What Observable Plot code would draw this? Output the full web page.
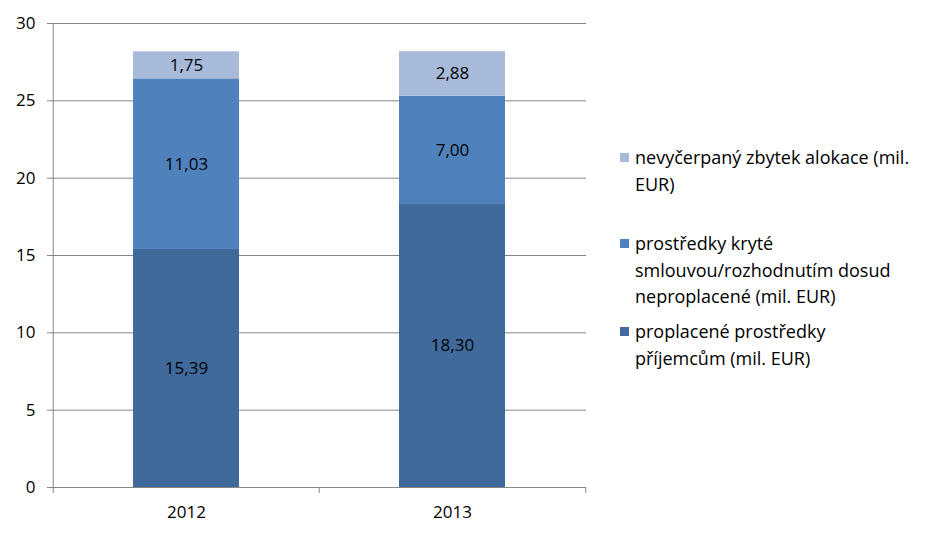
<!DOCTYPE html>
<html>
<head>
<meta charset="utf-8">
<script src="https://cdn.jsdelivr.net/npm/d3@7"></script>
<script src="https://cdn.jsdelivr.net/npm/@observablehq/plot@0.6"></script>
<style>
  html, body { margin: 0; padding: 0; background: #fff; }
  #wrap { position: relative; width: 936px; height: 539px; font-family: "Open Sans", Lato, sans-serif; }
  #legend { position: absolute; left: 0; top: 0; }
  .item { position: absolute; left: 620px; font-size: 18px; line-height: 26.5px; color: #000; white-space: nowrap; }
  .sw { position: absolute; left: 0; top: 9px; width: 9px; height: 9px; }
  .txt { position: absolute; left: 15px; top: 0; }
</style>
</head>
<body>
<div id="wrap"><div id="legend"></div></div>
<script>
const years = ["2012", "2013"];
const seriesNames = [
  "proplacené prostředky příjemcům (mil. EUR)",
  "prostředky kryté smlouvou/rozhodnutím dosud neproplacené (mil. EUR)",
  "nevyčerpaný zbytek alokace (mil. EUR)"
];
const legendLines = [
  ["proplacené prostředky", "příjemcům (mil. EUR)"],
  ["prostředky kryté", "smlouvou/rozhodnutím dosud", "neproplacené (mil. EUR)"],
  ["nevyčerpaný zbytek alokace (mil.", "EUR)"]
];
const paid = [15.39, 18.30];
const contracted = [11.03, 7.00];
const remaining = [1.75, 2.88];
const seriesColors = ["#3F6A9B", "#4F81BD", "#A8BADA"];
const yTicks = [0, 5, 10, 15, 20, 25, 30];

const valuesBySeries = [paid, contracted, remaining];
const data = [];
seriesNames.forEach((s, si) => {
  years.forEach((y, yi) => data.push({year: y, series: s, value: valuesBySeries[si][yi]}));
});
const fmt = v => v.toFixed(2).replace(".", ",");

const W = 600, H = 539, mL = 53, mR = 14, mT = 23, mB = 52;
const step = (W - mL - mR) / years.length;
const grey = "#868686";
const font = "'Open Sans', Lato, sans-serif";

const chart = Plot.plot({
  width: W, height: H,
  marginLeft: mL, marginRight: mR, marginTop: mT, marginBottom: mB,
  style: {fontFamily: font, fontSize: "17px", color: "#000", background: "transparent"},
  x: {domain: years, paddingInner: 0.6, paddingOuter: 0.3, label: null},
  y: {domain: [0, 30], ticks: yTicks, label: null},
  color: {domain: seriesNames, range: seriesColors},
  marks: [
    Plot.gridY(yTicks.filter(t => t > 0), {stroke: grey, strokeOpacity: 1, strokeWidth: 1}),
    Plot.axisY({ticks: yTicks, tickSize: 6, tickPadding: 12, stroke: grey, fill: "#000", fontSize: 17, label: null}),
    Plot.ruleX([years[0]], {dx: -step / 2, stroke: grey}),
    Plot.barY(data, {x: "year", y: "value", fill: "series"}),
    Plot.text(data, Plot.stackY({x: "year", y: "value", z: "series", text: d => fmt(d.value), fill: "#000", fontSize: 17})),
    Plot.ruleY([0], {stroke: grey}),
    Plot.ruleX(years, {x: d => d, dx: -step / 2, y1: 0, y2: 0, insetBottom: -6, stroke: grey}),
    Plot.ruleX([years[years.length - 1]], {dx: step / 2, y1: 0, y2: 0, insetBottom: -6, stroke: grey}),
    Plot.axisX({tickSize: 0, tickPadding: 18, fontSize: 17, fill: "#000", label: null})
  ]
});
const wrap = document.getElementById("wrap");
wrap.insertBefore(chart, wrap.firstChild);

const legend = document.getElementById("legend");
const tops = [318, 230, 144];
legendLines.forEach((lines, i) => {
  const it = document.createElement("div");
  it.className = "item";
  it.style.top = tops[i] + "px";
  const sw = document.createElement("div");
  sw.className = "sw";
  sw.style.background = seriesColors[i];
  const tx = document.createElement("div");
  tx.className = "txt";
  tx.innerHTML = lines.join("<br>");
  it.appendChild(sw); it.appendChild(tx);
  legend.appendChild(it);
});
</script>
</body>
</html>
